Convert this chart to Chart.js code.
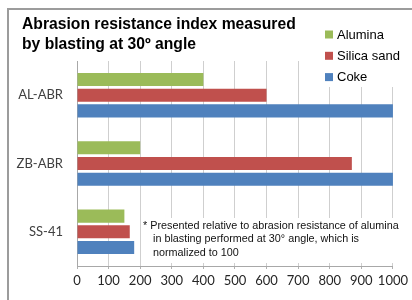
<!DOCTYPE html>
<html>
<head>
<meta charset="utf-8">
<script src="https://cdn.jsdelivr.net/npm/chart.js@4.4.1/dist/chart.umd.min.js"></script>
<style>
html,body{margin:0;padding:0;background:#fff;}
#wrap{width:412px;height:300px;position:relative;}
</style>
</head>
<body>
<div id="wrap"><canvas id="c" width="412" height="300"></canvas></div>
<script>
const categories = ['AL-ABR', 'ZB-ABR', 'SS-41'];
const seriesNames = ['Alumina', 'Silica sand', 'Coke'];
const alumina = [400, 200, 150];
const silicaSand = [600, 870, 167];
const coke = [1000, 1000, 181];
const xTicks = [0, 100, 200, 300, 400, 500, 600, 700, 800, 900, 1000];
const titleLines = ['Abrasion resistance index measured', 'by blasting at 30\u00BA angle'];
const noteLines = ['* Presented relative to abrasion resistance of alumina', 'in blasting performed at 30\u00B0 angle, which is', 'normalized to 100'];

const colors = ['#9BBB59', '#C0504D', '#4F81BD'];

const decor = {
  id: 'decor',
  beforeDraw(chart) {
    const ctx = chart.ctx;
    ctx.save();
    ctx.fillStyle = '#fff';
    ctx.fillRect(0, 0, chart.width, chart.height);
    ctx.restore();
  },
  afterDraw(chart) {
    const ctx = chart.ctx;
    ctx.save();
    // outer frame (top and left visible)
    ctx.strokeStyle = '#9c9c9c';
    ctx.lineWidth = 2;
    ctx.beginPath();
    ctx.moveTo(8, 305);
    ctx.lineTo(8, 9);
    ctx.lineTo(420, 9);
    ctx.stroke();

    // title
    ctx.fillStyle = '#000';
    ctx.font = 'bold 15.7px "Liberation Sans", Arial, sans-serif';
    ctx.textBaseline = 'alphabetic';
    ctx.textAlign = 'left';
    ctx.fillText(titleLines[0], 22, 29);
    ctx.fillText(titleLines[1], 22, 49);

    // legend
    ctx.fillStyle = '#fff';
    ctx.fillRect(316, 24, 96, 63);
    ctx.font = '13px "Liberation Sans", Arial, sans-serif';
    ctx.textBaseline = 'middle';
    chart.data.datasets.forEach((ds, i) => {
      const y = 34.5 + i * 21.3;
      ctx.fillStyle = ds.backgroundColor;
      ctx.fillRect(325, y - 4, 8, 8);
      ctx.fillStyle = '#000';
      ctx.fillText(ds.label, 337, y + 0.5);
    });

    // note box
    ctx.fillStyle = '#fff';
    ctx.fillRect(142, 218, 262, 45);
    ctx.fillStyle = '#111';
    ctx.font = '10.8px "Liberation Sans", Arial, sans-serif';
    ctx.textBaseline = 'middle';
    ctx.fillText(noteLines[0], 143, 226);
    ctx.fillText(noteLines[1], 153, 239.5);
    ctx.fillText(noteLines[2], 153, 253);
    ctx.restore();
  }
};

const datasets = [alumina, silicaSand, coke].map((d, i) => ({
  label: seriesNames[i],
  data: d,
  backgroundColor: colors[i],
  borderWidth: 0,
  categoryPercentage: 0.69,
  barPercentage: 0.83
}));

new Chart(document.getElementById('c'), {
  type: 'bar',
  data: { labels: categories, datasets },
  options: {
    indexAxis: 'y',
    responsive: false,
    animation: false,
    devicePixelRatio: 1,
    layout: { padding: { top: 61, right: 18, left: 0, bottom: 0 } },
    plugins: { legend: { display: false }, title: { display: false }, tooltip: { enabled: false } },
    scales: {
      x: {
        min: 0, max: 1000,
        afterBuildTicks(scale) { scale.ticks = xTicks.map(v => ({ value: v })); },
        afterFit(scale) { scale.height = 34; },
        grid: { color: '#cfcfcf', lineWidth: 1, tickLength: 3, drawTicks: true, tickColor: '#b0b0b0' },
        border: { color: '#a8a8a8', width: 1 },
        ticks: {
          padding: 4,
          maxRotation: 0,
          autoSkip: false,
          color: '#262626',
          callback: (v) => String(v),
          font: { family: 'Lato, "Open Sans", sans-serif', size: 13 }
        }
      },
      y: {
        afterFit(scale) { scale.width = 77; },
        grid: { display: false, drawTicks: false },
        border: { color: '#a8a8a8', width: 1 },
        ticks: {
          padding: 14,
          color: '#404040',
          font: { family: 'Lato, "Open Sans", sans-serif', size: 13 }
        }
      }
    }
  },
  plugins: [decor]
});
</script>
</body>
</html>
